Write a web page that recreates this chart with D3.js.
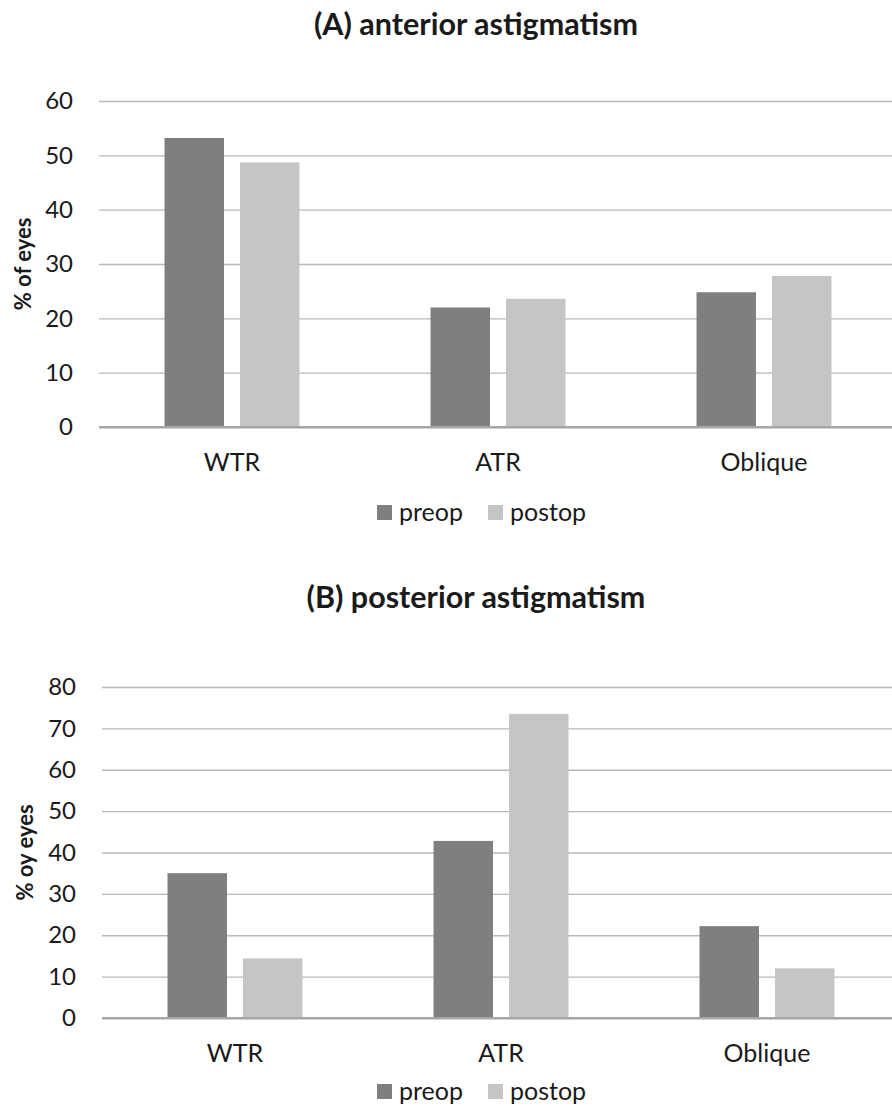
<!DOCTYPE html>
<html>
<head>
<meta charset="utf-8">
<script src="https://cdn.jsdelivr.net/npm/d3@7"></script>
<style>
  body { margin: 0; background: #fff; }
  svg { display: block; }
  text { font-family: Lato, "Open Sans", sans-serif; fill: #1a1a1a; }
</style>
</head>
<body>
<div id="root"></div>
<script>
const categories = ["WTR", "ATR", "Oblique"];
const seriesNames = ["preop", "postop"];

// panel A: anterior astigmatism (% of eyes)
const anteriorPreop = [53.2, 22.0, 24.8];
const anteriorPostop = [48.7, 23.6, 27.8];
const anteriorTicks = [0, 10, 20, 30, 40, 50, 60];

// panel B: posterior astigmatism
const posteriorPreop = [35.0, 42.8, 22.2];
const posteriorPostop = [14.4, 73.5, 12.0];
const posteriorTicks = [0, 10, 20, 30, 40, 50, 60, 70, 80];

const colors = { preop: "#7f7f7f", postop: "#c4c5c4" };

const W = 892;
const H = 1106;

const svg = d3
  .select("#root")
  .append("svg")
  .attr("width", W)
  .attr("height", H);

function drawPanel(opts) {
  const g = svg.append("g");

  const x0 = d3
    .scaleBand()
    .domain(categories)
    .range([opts.left, opts.left + 798]);

  const x1 = d3
    .scaleBand()
    .domain(seriesNames)
    .range([0, x0.bandwidth()])
    .paddingInner(0.212)
    .paddingOuter(0.868);

  const y = d3
    .scaleLinear()
    .domain([0, d3.max(opts.ticks)])
    .range([opts.bottom, opts.top]);

  // title, centred on the (partly cropped) chart area
  g.append("text")
    .attr("x", 476)
    .attr("y", opts.titleY)
    .attr("text-anchor", "middle")
    .attr("font-size", "30.5px")
    .attr("font-weight", "bold")
    .text(opts.title);

  // gridlines + tick labels
  const yAxis = d3
    .axisLeft(y)
    .tickValues(opts.ticks)
    .tickSize(-(W - opts.left))
    .tickPadding(26)
    .tickFormat(d3.format("d"));

  const ay = g
    .append("g")
    .attr("transform", `translate(${opts.left},0)`)
    .call(yAxis);
  ay.select(".domain").remove();
  ay.selectAll(".tick line")
    .attr("stroke", (d) => (d === 0 ? "#a6a6a6" : "#b8b8b8"))
    .attr("stroke-width", (d) => (d === 0 ? 2 : 1.3));
  ay.selectAll(".tick text")
    .attr("font-size", "24px")
    .attr("font-family", "Lato, sans-serif")
    .attr("fill", "#1a1a1a");

  // y label
  g.append("text")
    .attr("transform", `translate(${opts.labelX},${(opts.top + opts.bottom) / 2}) rotate(-90)`)
    .attr("text-anchor", "middle")
    .attr("font-size", "22px")
    .attr("font-weight", "bold")
    .text(opts.yLabel);

  // bars
  const rows = categories.map((c, i) => ({
    cat: c,
    vals: [
      { key: "preop", value: opts.preop[i] },
      { key: "postop", value: opts.postop[i] },
    ],
  }));

  g.append("g")
    .selectAll("g")
    .data(rows)
    .enter()
    .append("g")
    .attr("transform", (d) => `translate(${x0(d.cat)},0)`)
    .selectAll("rect")
    .data((d) => d.vals)
    .enter()
    .append("rect")
    .attr("x", (d) => x1(d.key))
    .attr("y", (d) => y(d.value))
    .attr("width", x1.bandwidth())
    .attr("height", (d) => opts.bottom - y(d.value))
    .attr("fill", (d) => colors[d.key]);

  // redraw baseline on top of bars
  g.append("line")
    .attr("x1", opts.left)
    .attr("x2", W)
    .attr("y1", y(0))
    .attr("y2", y(0))
    .attr("stroke", "#a6a6a6")
    .attr("stroke-width", 2);

  // category labels
  g.append("g")
    .selectAll("text")
    .data(categories)
    .enter()
    .append("text")
    .attr("x", (d) => x0(d) + x0.bandwidth() / 2)
    .attr("y", opts.catY)
    .attr("text-anchor", "middle")
    .attr("font-size", "25px")
    .text((d) => d);

  // legend
  const leg = g.append("g");
  const legX = [377, 488];
  seriesNames.forEach((s, i) => {
    leg.append("rect")
      .attr("x", legX[i])
      .attr("y", opts.legendY - 16)
      .attr("width", 15)
      .attr("height", 15)
      .attr("fill", colors[s]);
    leg.append("text")
      .attr("x", legX[i] + 22)
      .attr("y", opts.legendY)
      .attr("font-size", "25px")
      .text(s);
  });
}

drawPanel({
  title: "(A) anterior astigmatism",
  titleY: 35,
  yLabel: "% of eyes",
  ticks: anteriorTicks,
  preop: anteriorPreop,
  postop: anteriorPostop,
  left: 99,
  top: 101,
  bottom: 427,
  labelX: 31,
  catY: 471,
  legendY: 521,
});

drawPanel({
  title: "(B) posterior astigmatism",
  titleY: 608,
  yLabel: "% oy eyes",
  ticks: posteriorTicks,
  preop: posteriorPreop,
  postop: posteriorPostop,
  left: 102,
  top: 687,
  bottom: 1018,
  labelX: 33,
  catY: 1062,
  legendY: 1100,
});
</script>
</body>
</html>
